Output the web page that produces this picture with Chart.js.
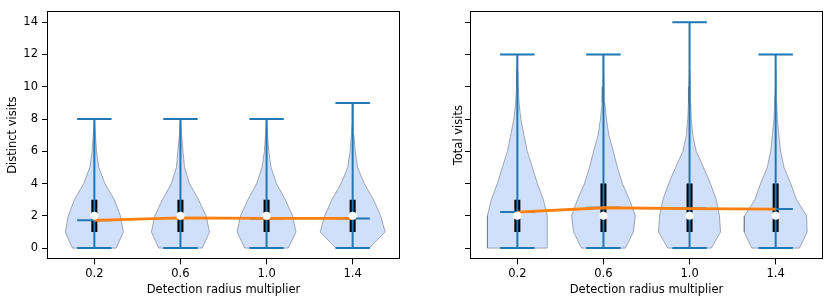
<!DOCTYPE html>
<html>
<head>
<meta charset="utf-8">
<script src="https://cdn.jsdelivr.net/npm/chart.js@4"></script>
<style>
  body { margin: 0; background: #fff; }
  #wrap { position: relative; width: 831px; height: 304px; }
  canvas { position: absolute; top: 0; }
</style>
</head>
<body>
<div id="wrap">
  <canvas id="chart-left" width="416" height="304" style="left:0"></canvas>
  <canvas id="chart-right" width="415" height="304" style="left:416px"></canvas>
</div>
<script>
// x positions (detection radius multiplier) and y ticks
var positions = [0.2, 0.6, 1.0, 1.4];
var yTicks = [0, 2, 4, 6, 8, 10, 12, 14];

// distinct visits
var distinctMin = [0, 0, 0, 0];
var distinctMax = [8, 8, 8, 9];
var distinctQ1 = [1, 1, 1, 1];
var distinctQ3 = [3, 3, 3, 3];
var distinctMedian = [2, 2, 2, 2];
var distinctMean = [1.72, 1.87, 1.84, 1.84];
// violin half widths at y = 0, 1, 2, ...
var distinctDensity = [
  [0.102, 0.135, 0.121, 0.093, 0.049, 0.021, 0.010, 0.005, 0.001],
  [0.101, 0.135, 0.119, 0.084, 0.042, 0.019, 0.012, 0.005, 0.001],
  [0.101, 0.137, 0.121, 0.087, 0.046, 0.021, 0.010, 0.005, 0.001],
  [0.077, 0.151, 0.130, 0.097, 0.054, 0.023, 0.012, 0.006, 0.002, 0.001]
];

// total visits
var totalMin = [0, 0, 0, 0];
var totalMax = [12, 12, 14, 12];
var totalQ1 = [1, 1, 1, 1];
var totalQ3 = [3, 4, 4, 4];
var totalMedian = [2, 2, 2, 2];
var totalMean = [2.23, 2.5, 2.45, 2.42];
var totalDensity = [
  [0.139, 0.139, 0.139, 0.121, 0.093, 0.070, 0.046, 0.031, 0.016, 0.008, 0.004, 0.002, 0.001],
  [0.102, 0.139, 0.148, 0.121, 0.088, 0.065, 0.046, 0.025, 0.014, 0.006, 0.003, 0.001, 0.001],
  [0.101, 0.144, 0.139, 0.124, 0.097, 0.065, 0.031, 0.015, 0.008, 0.005, 0.003, 0.002, 0.001, 0.001, 0.0005],
  [0.111, 0.146, 0.144, 0.097, 0.070, 0.039, 0.023, 0.015, 0.008, 0.005, 0.002, 0.001, 0.001]
];

var blue = '#1f77b4';
var orange = '#ff7f0e';
var capHalf = 0.08;

Chart.defaults.font.family = 'DejaVu Sans';
Chart.defaults.font.size = 11.5;
Chart.defaults.color = '#000';

var frame = {
  id: 'frame',
  afterDraw: function (chart) {
    var a = chart.chartArea, c = chart.ctx;
    c.save();
    c.strokeStyle = '#000';
    c.lineWidth = 1;
    var l = Math.round(a.left) + 0.5, t = Math.round(a.top) + 0.5;
    var r = Math.round(a.right) - 0.5, b = Math.round(a.bottom) - 0.5;
    c.strokeRect(l, t, r - l, b - t);
    c.restore();
  }
};

function buildDatasets(density, mins, maxs, q1, q3, med, mean) {
  var sets = [];
  var whisk = [], box = [], dots = [], line = [];
  for (var i = 0; i < positions.length; i++) {
    var p = positions[i], d = density[i], pts = [];
    for (var k = 0; k < d.length; k++) pts.push({x: p + d[k], y: k});
    for (k = d.length - 1; k >= 0; k--) pts.push({x: p - d[k], y: k});
    pts.push({x: p + d[0], y: 0});
    sets.push({
      data: pts, showLine: true, fill: 'shape', tension: 0,
      backgroundColor: 'rgba(100,149,237,0.3)', borderColor: 'rgba(110,115,130,0.6)',
      borderWidth: 1, pointRadius: 0, order: 7
    });

    whisk.push({x: p, y: mins[i]}, {x: p, y: maxs[i]}, {x: p, y: null});
    whisk.push({x: p - capHalf, y: mins[i]}, {x: p + capHalf, y: mins[i]}, {x: p, y: null});
    whisk.push({x: p - capHalf, y: maxs[i]}, {x: p + capHalf, y: maxs[i]}, {x: p, y: null});
    whisk.push({x: p - capHalf, y: mean[i]}, {x: p + capHalf, y: mean[i]}, {x: p, y: null});
    box.push({x: p, y: q1[i]}, {x: p, y: q3[i]}, {x: p, y: null});
    dots.push({x: p, y: med[i]});
    line.push({x: p, y: mean[i]});
  }
  sets.push({data: box, showLine: true, spanGaps: false, borderColor: '#000', borderWidth: 6,
             borderCapStyle: 'butt', pointRadius: 0, order: 6});
  sets.push({data: whisk, showLine: true, spanGaps: false, borderColor: blue, borderWidth: 2,
             borderCapStyle: 'butt', pointRadius: 0, order: 5});
  sets.push({data: line, showLine: true, borderColor: orange, borderWidth: 2.8,
             pointRadius: 0, order: 3});
  sets.push({data: dots, showLine: false, pointRadius: 4, backgroundColor: '#fff',
             borderWidth: 0, order: 2});
  return sets;
}

function makeChart(id, datasets, yTitle, yWidth, yTitlePad, showYLabels, padRight) {
  var ctx = document.getElementById(id).getContext('2d');
  return new Chart(ctx, {
    type: 'scatter',
    data: {datasets: datasets},
    options: {
      responsive: false,
      animation: false,
      layout: {padding: {top: 8.4, right: padRight, bottom: 0, left: 0}},
      plugins: {legend: {display: false}, tooltip: {enabled: false}},
      scales: {
        x: {
          type: 'linear', min: -0.02, max: 1.62,
          afterBuildTicks: function (s) { s.ticks = positions.map(function (v) { return {value: v}; }); },
          afterFit: function (s) { s.height = 44.6; },
          ticks: {padding: 3, callback: function (v) { return Number(v).toFixed(1); }},
          grid: {display: true, drawOnChartArea: false, drawTicks: true, tickLength: 5, tickColor: '#000'},
          border: {display: false},
          title: {display: true, text: 'Detection radius multiplier', padding: {top: 0, bottom: 7}}
        },
        y: {
          type: 'linear', min: -0.7, max: 14.7,
          afterBuildTicks: function (s) { s.ticks = yTicks.map(function (v) { return {value: v}; }); },
          afterFit: function (s) { s.width = yWidth; },
          ticks: {padding: 4, callback: function (v) { return showYLabels ? String(v) : ''; }},
          grid: {display: true, drawOnChartArea: false, drawTicks: true, tickLength: 5, tickColor: '#000'},
          border: {display: false},
          title: {display: true, text: yTitle, padding: {top: yTitlePad, bottom: 0}}
        }
      }
    },
    plugins: [frame]
  });
}

makeChart('chart-left',
  buildDatasets(distinctDensity, distinctMin, distinctMax, distinctQ1, distinctQ3, distinctMedian, distinctMean),
  'Distinct visits', 47, 6.4, true, 16);
makeChart('chart-right',
  buildDatasets(totalDensity, totalMin, totalMax, totalQ1, totalQ3, totalMedian, totalMean),
  'Total visits', 54, 36.4, false, 8);
</script>
</body>
</html>
